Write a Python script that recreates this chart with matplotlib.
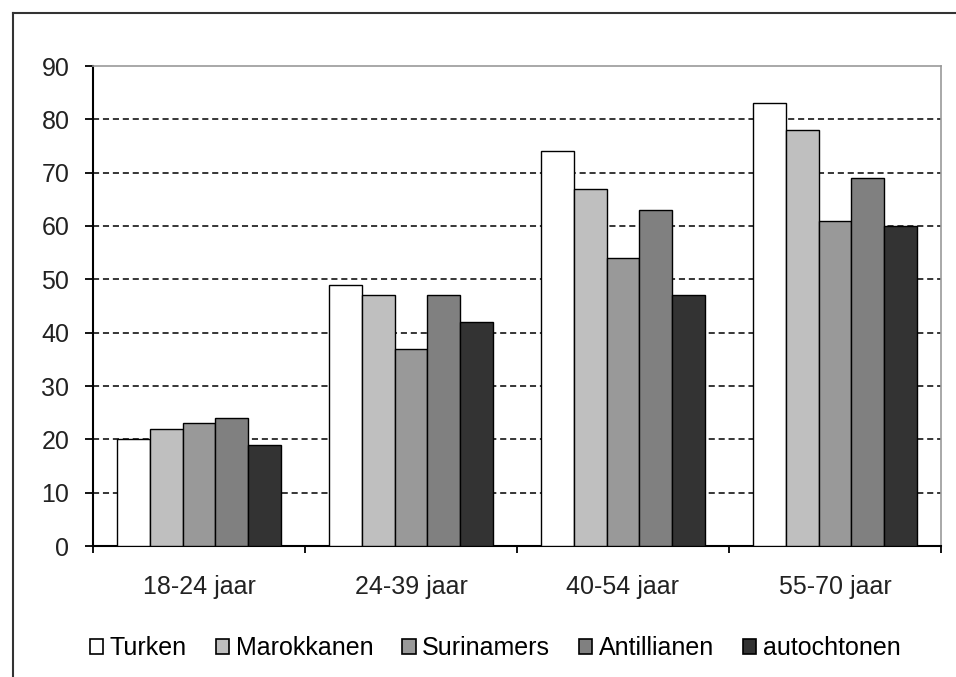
import numpy as np
import matplotlib
matplotlib.use("Agg")
import matplotlib.pyplot as plt
from matplotlib.patches import Rectangle
from matplotlib.lines import Line2D

plt.rcParams['font.family'] = ['Liberation Sans', 'DejaVu Sans']

categories = ["18-24 jaar", "24-39 jaar", "40-54 jaar", "55-70 jaar"]
series = ["Turken", "Marokkanen", "Surinamers", "Antillianen", "autochtonen"]
turken = [20, 49, 74, 83]
marokkanen = [22, 47, 67, 78]
surinamers = [23, 37, 54, 61]
antillianen = [24, 47, 63, 69]
autochtonen = [19, 42, 47, 60]
values = [turken, marokkanen, surinamers, antillianen, autochtonen]
colors = ["#ffffff", "#bfbfbf", "#999999", "#808080", "#333333"]

fig = plt.figure(figsize=(9.56, 6.77), dpi=100)
ax = fig.add_axes([93 / 956, 1 - 546 / 677, (941 - 93) / 956, (546 - 66) / 677])

# outer chart border (only left and top are visible in the original crop)
fig.add_artist(Line2D([13 / 956, 13 / 956], [0, 1 - 13 / 677], transform=fig.transFigure,
                      color="#333333", lw=1.5))
fig.add_artist(Line2D([13 / 956, 1], [1 - 13 / 677, 1 - 13 / 677], transform=fig.transFigure,
                      color="#333333", lw=1.5))

x = np.arange(len(categories))
n = len(series)
bw = 1 / (n + 1.5)
for i, (name, vals, c) in enumerate(zip(series, values, colors)):
    ax.bar(x - 0.5 + bw * 0.75 + bw * (i + 0.5), vals, width=bw, color=c,
           edgecolor="black", linewidth=1.0, label=name, zorder=3)

ax.set_xlim(-0.5, len(categories) - 0.5)
ax.set_ylim(0, 90)
ax.set_yticks(np.arange(0, 91, 10))
ax.set_xticks(x)
ax.set_xticklabels(categories)
ax.set_xticks(np.arange(-0.5, len(categories), 1), minor=True)
ax.tick_params(axis="x", which="major", length=0, pad=21, labelsize=18, colors="#222222")
ax.tick_params(axis="x", which="minor", length=5, width=1.3, direction="out", color="black")
ax.tick_params(axis="y", length=6, width=1.3, direction="out", labelsize=18,
               pad=11, colors="#222222")
ax.tick_params(axis="y", color="black")

for yv in range(10, 90, 10):
    ax.axhline(yv, color="black", lw=1.1, ls=(0, (4, 2.5)), zorder=1)

for s in ["top", "right"]:
    ax.spines[s].set_color("#999999")
    ax.spines[s].set_linewidth(1.2)
for s in ["left", "bottom"]:
    ax.spines[s].set_color("black")
    ax.spines[s].set_linewidth(1.5)

handles = [Rectangle((0, 0), 1, 1, facecolor=c, edgecolor="black", lw=1.2) for c in colors]
fig.legend(handles, series, loc="center", bbox_to_anchor=(495 / 956, 1 - 648 / 677),
           ncol=5, frameon=False, fontsize=18, handlelength=0.55, handleheight=0.55,
           handletextpad=0.25, columnspacing=1.15)

fig.savefig("out.png", dpi=100)
